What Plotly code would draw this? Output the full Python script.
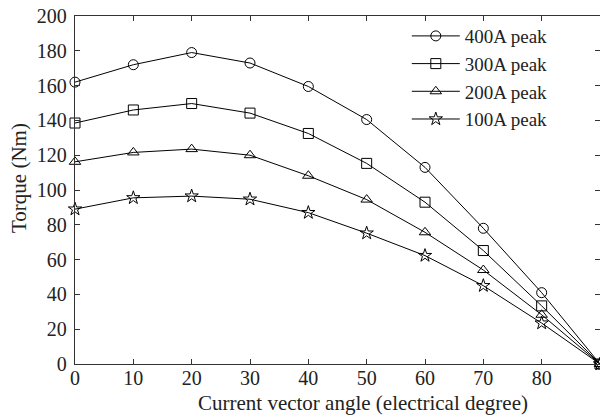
import plotly.graph_objects as go

angles = [0, 10, 20, 30, 40, 50, 60, 70, 80, 90]
torque_400 = [162, 172, 179, 173, 159.5, 140.5, 113, 78, 41, 0]
torque_300 = [138.5, 146, 149.7, 144.2, 132.5, 115.3, 93, 65.2, 33.4, 0]
torque_200 = [116.2, 121.6, 123.5, 120, 108.2, 94.5, 75.7, 54, 28.3, 0]
torque_100 = [89, 95.5, 96.5, 94.7, 87, 75.2, 62.3, 45, 23.5, 0]
series_names = ["400A peak", "300A peak", "200A peak", "100A peak"]
symbols = ["circle-open", "square-open", "triangle-up-open", "star-open"]
x_title = "Current vector angle (electrical degree)"
y_title = "Torque (Nm)"

font = "Liberation Serif, Times New Roman, serif"
fig = go.Figure()
for name, ys, sym in zip(series_names, [torque_400, torque_300, torque_200, torque_100], symbols):
    fig.add_trace(go.Scatter(
        x=angles, y=ys, name=name, mode="lines+markers",
        line=dict(color="black", width=1),
        marker=dict(symbol=sym, size=10, color="black", line=dict(color="black", width=1)),
        cliponaxis=False,
    ))

axis_common = dict(
    showline=True, linecolor="#333", linewidth=1.3, mirror="ticks",
    ticks="inside", ticklen=5, tickcolor="#333", showgrid=False, zeroline=False,
    tickfont=dict(family=font, size=20, color="#222"), automargin=False,
)
fig.update_layout(
    width=600, height=417,
    margin=dict(l=75, r=0, t=16, b=53),
    paper_bgcolor="white", plot_bgcolor="white",
    font=dict(family=font, size=20, color="#222"),
    xaxis=dict(range=[0, 90], dtick=10, tick0=0, ticklabelstandoff=-4, **axis_common),
    yaxis=dict(range=[0, 200.01], dtick=20, tick0=0, ticklabelstandoff=3, **axis_common),
    legend=dict(x=0.632, y=0.997, xanchor="left", yanchor="top", bgcolor="rgba(0,0,0,0)",
                font=dict(family=font, size=19), tracegroupgap=0, itemwidth=48),
    showlegend=True,
    annotations=[
        dict(text=x_title, xref="paper", yref="paper", x=0.549, y=-0.112,
             xanchor="center", yanchor="middle", showarrow=False,
             font=dict(family=font, size=21, color="#222")),
        dict(text=y_title, xref="paper", yref="paper", x=-0.107, y=0.534,
             xanchor="center", yanchor="middle", showarrow=False, textangle=-90,
             font=dict(family=font, size=21, color="#222")),
    ],
)
fig.write_html("out.html", config={"displayModeBar": False},
               post_script="document.body.style.margin='0';")
